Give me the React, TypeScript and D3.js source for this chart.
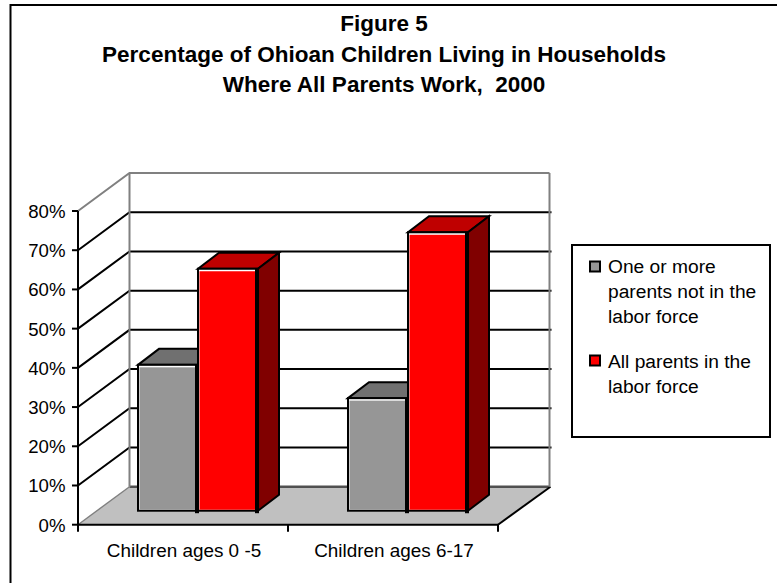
import React from "react";
import * as d3 from "d3";

const categories = ["Children ages 0 -5", "Children ages 6-17"];
const seriesNames = ["One or more parents not in the labor force", "All parents in the labor force"];
const notInLaborForce = [37.2, 28.7];
const allInLaborForce = [61.7, 71];
const yTicks = [0, 10, 20, 30, 40, 50, 60, 70, 80];
const titleLines = ["Figure 5", "Percentage of Ohioan Children Living in Households", "Where All Parents Work,  2000"];
const legendOneLines = ["One or more", "parents not in the", "labor force"];
const legendTwoLines = ["All parents in the", "labor force"];

const FONT = "'Liberation Sans', Arial, sans-serif";

// Oblique projection: depth of the plot box and the depth at which bars stand.
const DEPTH = { dx: 51.5, dy: -38 };
const BAR_FRONT = { dx: 15, dy: -14 };
const BAR_DEPTH = { dx: 21, dy: -16 };

export default function App() {
  const y = d3.scaleLinear().domain([0, 80]).range([524.7, 211]);
  const x = d3.scaleBand<string>().domain(categories).range([78, 498]).padding(0);
  const series = d3.scaleBand<number>().domain([0, 1]).range([45, 165]);
  const poly = d3.line();

  const xL = 78;
  const xR = 498;
  const y0 = y(0);
  const y80 = y(80);

  const bar = (cat: string, s: number, v: number, fill: string, top: string, side: string) => {
    const x0 = x(cat)! + series(s)! + BAR_FRONT.dx;
    const w = series.bandwidth();
    const yb = y0 + BAR_FRONT.dy;
    const yt = y(v) + BAR_FRONT.dy;
    const { dx, dy } = BAR_DEPTH;
    return (
      <g key={cat + s}>
        <path d={poly([[x0, yt], [x0 + dx, yt + dy], [x0 + w + dx, yt + dy], [x0 + w, yt]])! + "Z"} fill={top} stroke="#000" strokeWidth={2} strokeLinejoin="miter" />
        <path d={poly([[x0 + w, yt], [x0 + w + dx, yt + dy], [x0 + w + dx, yb + dy], [x0 + w, yb]])! + "Z"} fill={side} stroke="#000" strokeWidth={2} />
        <rect x={x0} y={yt} width={w} height={yb - yt} fill="#fff" stroke="#000" strokeWidth={2} />
        <rect x={x0 + 1.5} y={yt + 2.5} width={w - 3} height={yb - yt - 3.5} fill={fill} />
        <line x1={x0 + w - 1} x2={x0 + w - 1} y1={yt} y2={yb + 2.5} stroke="#000" strokeWidth={4} />
      </g>
    );
  };

  return (
    <svg width={777} height={583} style={{ position: "absolute", left: 0, top: 0 }}>
      <rect x={0} y={0} width={777} height={583} fill="#fff" />

      {/* page frame: only the top and left rules are present */}
      <line x1={10} x2={777} y1={5} y2={5} stroke="#000" strokeWidth={2} />
      <line x1={10.5} x2={10.5} y1={4} y2={583} stroke="#000" strokeWidth={2} />

      {titleLines.map((t, i) => (
        <text key={t} x={384} y={31 + i * 30.5} textAnchor="middle" fontFamily={FONT} fontWeight="bold" fontSize={22.5} fill="#000" style={{ whiteSpace: "pre" }}>{t}</text>
      ))}

      {/* back wall, side wall and floor */}
      <path d={poly([[xL, y0], [xL + DEPTH.dx, y0 + DEPTH.dy], [xR + DEPTH.dx, y0 + DEPTH.dy], [xR, y0]])! + "Z"} fill="#c0c0c0" />
      <line x1={xL + DEPTH.dx} x2={xR + DEPTH.dx} y1={y0 + DEPTH.dy} y2={y0 + DEPTH.dy} stroke="#505050" strokeWidth={2.5} />
      <line x1={xR + DEPTH.dx + 1} x2={xR} y1={y0 + DEPTH.dy} y2={y0} stroke="#000" strokeWidth={2} />
      <line x1={xL} x2={xL + DEPTH.dx} y1={y0} y2={y0 + DEPTH.dy} stroke="#808080" strokeWidth={1.4} />

      {yTicks.filter((t) => t > 0).map((t) => (
        <path key={t} d={poly([[xL, y(t)], [xL + DEPTH.dx, y(t) + DEPTH.dy], [xR + DEPTH.dx + (t === 80 ? 0 : 2), y(t) + DEPTH.dy]])!} fill="none" stroke={t === 80 ? "#808080" : "#000"} strokeWidth={2} />
      ))}
      <line x1={xL + DEPTH.dx} x2={xL + DEPTH.dx} y1={y80 + DEPTH.dy} y2={y0 + DEPTH.dy} stroke="#808080" strokeWidth={2} />
      <line x1={xR + DEPTH.dx} x2={xR + DEPTH.dx} y1={y80 + DEPTH.dy} y2={y0 + DEPTH.dy} stroke="#808080" strokeWidth={2} />

      {/* value axis and category axis */}
      <line x1={xL} x2={xL} y1={y80} y2={y0} stroke="#000" strokeWidth={2} />
      <line x1={xL} x2={xR} y1={y0} y2={y0} stroke="#000" strokeWidth={2} />
      {yTicks.map((t) => (
        <g key={t}>
          <line x1={xL - 6} x2={xL} y1={y(t)} y2={y(t)} stroke="#000" strokeWidth={2} />
          <text x={65.5} y={y(t) + 7} textAnchor="end" fontFamily={FONT} fontSize={18.6} fill="#000">{t}%</text>
        </g>
      ))}
      {[xL, x(categories[1])!, xR].map((v) => (
        <line key={v} x1={v} x2={v} y1={y0} y2={y0 + 7} stroke="#000" strokeWidth={2} />
      ))}
      {categories.map((c) => (
        <text key={c} x={x(c)! + x.bandwidth() / 2 + 1} y={556.5} textAnchor="middle" fontFamily={FONT} fontSize={18.9} fill="#000">{c}</text>
      ))}

      {categories.map((c, i) => (
        <g key={c}>
          {bar(c, 0, notInLaborForce[i], "#969696", "#707070", "#4b4b4b")}
          {bar(c, 1, allInLaborForce[i], "#ff0000", "#bf0000", "#800000")}
        </g>
      ))}

      {/* legend */}
      <g aria-label={seriesNames.join(", ")}>
        <rect x={572} y={245} width={198} height={192} fill="#fff" stroke="#000" strokeWidth={2} />
        <rect x={590} y={261.5} width={10} height={10} fill="#969696" stroke="#000" strokeWidth={2} />
        <rect x={590} y={355.5} width={10} height={10} fill="#ff0000" stroke="#000" strokeWidth={2} />
        {legendOneLines.map((t, i) => (
          <text key={t} x={608} y={273 + i * 25} fontFamily={FONT} fontSize={19.2} fill="#000">{t}</text>
        ))}
        {legendTwoLines.map((t, i) => (
          <text key={t} x={608} y={368 + i * 25} fontFamily={FONT} fontSize={19.2} fill="#000">{t}</text>
        ))}
      </g>
    </svg>
  );
}
